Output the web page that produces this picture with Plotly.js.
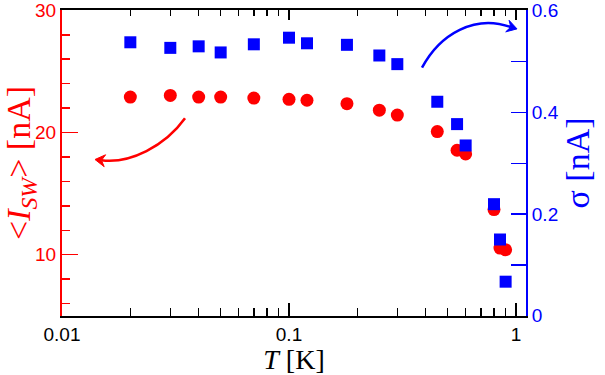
<!DOCTYPE html>
<html>
<head>
<meta charset="utf-8">
<script src="https://cdn.plot.ly/plotly-3.0.1.min.js"></script>
<style>html,body{margin:0;padding:0;background:#fff;}#chart{width:605px;height:375px;}</style>
</head>
<body>
<div id="chart"></div>
<script>
// Temperature (K)
const temperature = [0.02, 0.03, 0.04, 0.05, 0.07, 0.1, 0.12, 0.18, 0.25, 0.30, 0.45, 0.55, 0.60, 0.80, 0.85, 0.90];
// Mean switching current <I_SW> (nA)
const meanISW = [22.9, 23.04, 22.9, 22.9, 22.82, 22.72, 22.64, 22.36, 21.83, 21.43, 20.08, 18.55, 18.25, 13.69, 10.54, 10.4];
// Width sigma (nA)
const sigma = [0.538, 0.527, 0.530, 0.518, 0.534, 0.547, 0.536, 0.533, 0.512, 0.495, 0.421, 0.377, 0.335, 0.2195, 0.150, 0.067];

const xTickVals = [0.01, 0.1, 1];
const xTickText = ['0.01', '0.1', '1'];
const yLeftTickVals = [10, 20, 30];
const yRightTickVals = [0, 0.2, 0.4, 0.6];

const RED = '#ff0000', BLUE = '#0000ff';

const traces = [
  {x: temperature, y: meanISW, type: 'scatter', mode: 'markers', xaxis: 'x', yaxis: 'y',
   marker: {symbol: 'circle', size: 13, color: RED}},
  {x: temperature, y: sigma, type: 'scatter', mode: 'markers', xaxis: 'x2', yaxis: 'y2',
   marker: {symbol: 'square', size: 12, color: BLUE}}
];

const tickFont = {family: 'Liberation Sans, Arial, sans-serif', size: 19};
const serif = 'Liberation Serif, Times New Roman, serif';

const xBase = {
  type: 'log', range: [-2, 0.044],
  ticks: 'inside', tickwidth: 1.5, tickcolor: '#000',
  showline: true, linecolor: '#000', linewidth: 2,
  showgrid: false, zeroline: false
};

const layout = {
  width: 605, height: 375,
  margin: {l: 62, r: 79, t: 10, b: 59},
  paper_bgcolor: '#fff', plot_bgcolor: '#fff',
  showlegend: false,
  xaxis: Object.assign({}, xBase, {
    tickvals: xTickVals, ticktext: xTickText, ticklen: 13,
    minor: {ticks: 'inside', ticklen: 8, tickwidth: 1.5, tickcolor: '#000', dtick: 'D1', showgrid: false},
    tickfont: Object.assign({color: '#000'}, tickFont),
    ticklabeloverflow: 'allow',
    title: {text: '<i>T</i> [K]', font: {family: serif, size: 28, color: '#000'}, standoff: 9}
  }),
  xaxis2: Object.assign({}, xBase, {
    overlaying: 'x', anchor: 'y2', side: 'top',
    tickvals: xTickVals, ticklen: 10, showticklabels: false,
    minor: {ticks: 'inside', ticklen: 6, tickwidth: 1.5, tickcolor: '#000', dtick: 'D1', showgrid: false}
  }),
  yaxis: {
    range: [4.98, 30.03], tickvals: yLeftTickVals,
    ticks: 'inside', ticklen: 16, tickwidth: 1.5, tickcolor: RED,
    minor: {ticks: 'inside', ticklen: 8, tickwidth: 1.5, tickcolor: RED, dtick: 2, tick0: 0, showgrid: false},
    showline: true, linecolor: RED, linewidth: 2,
    showgrid: false, zeroline: false,
    tickfont: Object.assign({color: RED}, tickFont),
    ticklabeloverflow: 'allow',
    title: {text: '&lt;<i>I</i><sub><i>SW</i></sub>&gt; [nA]', font: {family: serif, size: 34, color: RED}, standoff: 0}
  },
  yaxis2: {
    overlaying: 'y', side: 'right', anchor: 'x2',
    range: [-0.0005, 0.6015], tickvals: yRightTickVals,
    ticks: 'inside', ticklen: 15, tickwidth: 1.5, tickcolor: BLUE,
    minor: {ticks: 'inside', ticklen: 15, tickwidth: 1.5, tickcolor: BLUE, dtick: 0.1, showgrid: false},
    showline: true, linecolor: BLUE, linewidth: 2,
    showgrid: false, zeroline: false,
    tickfont: Object.assign({color: BLUE}, tickFont),
    ticklabeloverflow: 'allow',
    title: {text: 'σ [nA]', font: {family: serif, size: 34, color: BLUE}, standoff: 4}
  },
  shapes: [
    {type: 'path', xref: 'paper', yref: 'paper',
     path: 'M 0.2651 0.6461 C 0.2220 0.5552, 0.1466 0.4968, 0.0851 0.5088',
     line: {color: RED, width: 2.5}},
    {type: 'path', xref: 'paper', yref: 'paper',
     path: 'M 0.0711 0.5114 L 0.0940 0.5269 L 0.0851 0.5088 L 0.0909 0.4880 Z',
     line: {color: RED, width: 1}, fillcolor: RED},
    {type: 'path', xref: 'paper', yref: 'paper',
     path: 'M 0.7759 0.8117 C 0.8147 0.9221, 0.8901 0.9870, 0.9672 0.9442',
     line: {color: BLUE, width: 2.5}},
    {type: 'path', xref: 'paper', yref: 'paper',
     path: 'M 0.9806 0.9383 L 0.9636 0.9662 L 0.9672 0.9442 L 0.9563 0.9286 Z',
     line: {color: BLUE, width: 1}, fillcolor: BLUE}
  ]
};

Plotly.newPlot('chart', traces, layout, {displayModeBar: false, staticPlot: true});
</script>
</body>
</html>
